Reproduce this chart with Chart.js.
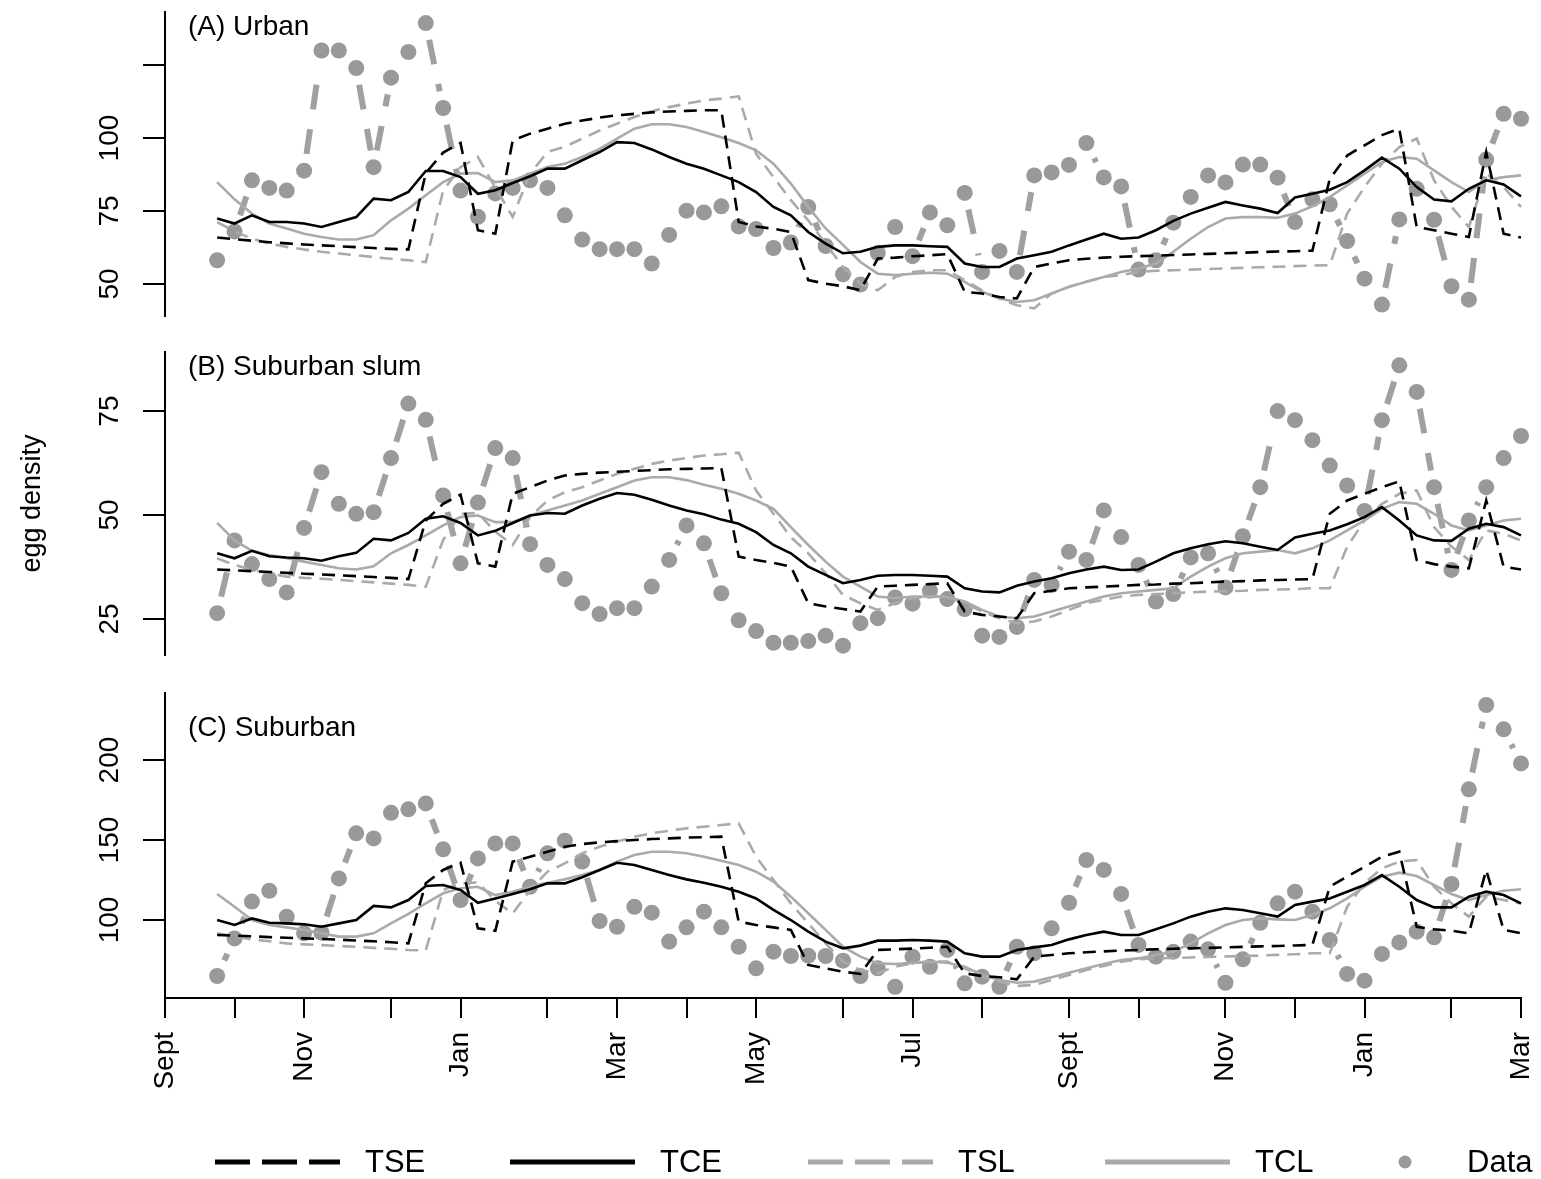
<!DOCTYPE html>
<html>
<head>
<meta charset="utf-8">
<script src="https://cdn.jsdelivr.net/npm/chart.js@4.4.0/dist/chart.umd.min.js"></script>
<style>
html,body{margin:0;padding:0;background:#fff;overflow:hidden;}
#wrap{position:relative;width:1541px;height:1179px;background:#fff;}
.panel{position:absolute;left:0;width:1541px;}
canvas{display:block;}
</style>
</head>
<body>
<div id="wrap">
  <div class="panel" style="top:0;height:340px"><canvas id="cA" width="1541" height="340"></canvas></div>
  <div class="panel" style="top:340px;height:340px"><canvas id="cB" width="1541" height="340"></canvas></div>
  <div class="panel" style="top:680px;height:499px"><canvas id="cC" width="1541" height="499"></canvas></div>
</div>
<script>
// ---------- x axis: weeks since 1 September ----------
const weeks = [3,4,5,6,7,8,9,10,11,12,13,14,15,16,17,18,19,20,21,22,23,24,25,26,27,28,29,30,31,32,33,34,35,36,37,38,39,40,41,42,43,44,45,46,47,48,49,50,51,52,53,54,55,56,57,58,59,60,61,62,63,64,65,66,67,68,69,70,71,72,73,74,75,76,77,78];
const tickWeeks = [0,4,8,13,17,22,26,30,34,39,43,47,52,56,61,65,69,74,78];
const tickLabels = ['Sept','','Nov','','Jan','','Mar','','May','','Jul','','Sept','','Nov','','Jan','','Mar'];
const seriesNames = ['TSE','TCE','TSL','TCL','Data'];
const panelTitles = ['(A) Urban','(B) Suburban slum','(C) Suburban'];
const yAxisTitle = 'egg density';

// ---------- y ticks ----------
const yTicksA = [50,75,100,125];   const yLabelsA = ['50','75','100',''];
const yTicksB = [25,50,75];        const yLabelsB = ['25','50','75'];
const yTicksC = [100,150,200];     const yLabelsC = ['100','150','200'];

// ---------- (A) Urban ----------
const dataA = [58.1,68,85.5,82.9,82,88.8,130,130,124,90,
  120.7,129.5,139.4,110.3,82,73,81,82.9,85.5,82.9,
  73.5,65.2,61.9,61.9,61.9,57,66.8,75.1,74.5,76.6,
  69.7,68.8,62.3,64.2,76.4,63,53.3,49.8,60.6,69.5,
  59.5,74.5,70.1,81.2,54.1,61.3,54.1,87.2,88.2,90.8,
  98.3,86.5,83.4,54.9,58.1,71,79.8,87.2,84.8,90.9,
  90.9,86.4,71.2,79,77.3,64.7,51.8,42.9,72.1,82.6,
  72,49.2,44.6,92.6,108.3,106.6];
const tseA = [65.9,65.3,64.8,64.3,63.9,63.5,63.2,62.9,62.6,62.3,
  62,61.8,88,95,98.3,68.4,67.2,99.2,101.5,103.2,
  104.9,106,107,107.8,108.3,108.8,109.1,109.3,109.5,109.5,
  71.2,69.7,68.9,67.8,51.3,50.1,49.2,47.8,58.7,59,
  59.5,59.8,60.2,47.3,46.7,45.5,45,55.8,57,58.1,
  58.6,59,59.3,59.5,59.7,59.9,60.1,60.3,60.5,60.7,
  60.9,61.1,61.2,61.4,86,94,97.5,101,103.2,69.5,
  68.4,67.2,66.1,95.2,67.2,65.9];
const tceA = [72.4,70.7,73.5,71.2,71.2,70.7,69.5,71.2,72.9,79.2,
  78.7,81.5,88.7,88.7,86.6,80.9,82.1,84.6,86.9,89.5,
  89.5,92.4,95.2,98.6,98.3,96.1,93.5,91.2,89.5,87.2,
  84.9,81.5,76.4,73.5,67.8,63.8,60.5,61,62.7,63.2,
  63.2,62.9,62.7,57,55.8,55.8,58.7,59.8,61,63.2,
  65.2,67.2,65.5,65.9,68.4,71.6,74.1,76.1,78.1,76.9,
  75.8,74.3,79.6,80.9,82.3,84.9,88.9,93.3,89.5,83.2,
  78.9,78.3,82.6,85.5,84.1,80];
const tslA = [71.2,68,65.5,63.8,62.7,61.8,61,60.4,59.8,59.2,
  58.6,58.1,57.5,82,90,93.5,83,73,87.8,95.2,
  97,99.8,102.6,104.9,107.2,109.2,110.6,111.8,112.9,113.5,
  114.3,94.6,86.6,78.7,71.8,63.8,55.8,50.1,47.8,52.4,
  54.1,54.7,54.7,51.3,47.8,45,42.7,41.6,46.7,49,
  50.7,52.4,53,54.1,54.5,54.7,54.9,55.1,55.3,55.5,
  55.7,55.9,56.1,56.3,56.4,74.1,83.2,91.2,96.9,99.8,
  85.5,76.4,69.5,87.8,83.2,76.4];
const tclA = [84.9,79,74.1,70.7,69,67.2,66.1,65.2,65.2,66.7,
  71.8,75.8,80.4,84.9,87.8,88,84.9,85.5,87.8,90.1,
  91.2,93.5,96.3,99.8,103.2,104.7,104.7,103.8,102.1,100.3,
  98.3,95.8,91.2,84.4,76.4,69,63.4,57.5,53.5,53,
  53.5,53.8,53.5,50.7,47.3,45,43.8,44.4,46.7,49,
  50.7,52.4,54.1,55.3,57,61,65.5,69.5,72.4,72.9,
  72.9,72.7,74.1,76.6,79.8,83.8,87.8,91.8,93.5,92.9,
  88.9,84.9,81.5,85.5,86.6,87.2];

// ---------- (B) Suburban slum ----------
const dataB = [26.4,43.9,38.2,34.6,31.4,46.9,60.3,52.7,50.3,50.7,
  63.7,76.8,72.9,54.7,38.4,53,66.1,63.7,43,38,
  34.6,28.8,26.2,27.6,27.6,32.8,39.2,47.5,43.2,31.2,
  24.7,22.1,19.3,19.3,19.7,21,18.6,24,25.2,30.2,
  28.7,31.8,29.8,27.4,21,20.7,23.1,34.4,33.2,41.2,
  39.2,51.1,44.7,38,29.2,31,39.8,40.8,32.6,44.9,
  56.7,75,72.8,68,61.9,57.1,51,72.8,86,79.6,
  56.7,36.8,48.7,56.7,63.7,69];
const tseB = [36.9,36.7,36.5,36.3,36.1,35.9,35.7,35.5,35.3,35.1,
  34.9,34.6,48.7,52.7,54.9,38.4,37.6,55.1,56.7,58.3,
  59.5,59.9,60.2,60.4,60.6,60.8,61,61.1,61.2,61.3,
  40,39.2,38.5,37.6,28.8,28,27.4,26.8,32.8,33,
  33.2,33.4,33.6,26.8,26,25.6,25.2,31.2,31.8,32.4,
  32.6,32.8,33,33.2,33.3,33.5,33.6,33.8,34,34.1,
  34.3,34.4,34.5,34.6,50.3,53.5,55.1,56.7,58.1,39.2,
  38.2,37.6,37.2,53.5,37.6,36.9];
const tceB = [40.8,39.6,41.4,40.1,39.8,39.6,39,40.1,40.9,44.3,
  43.9,45.7,49.1,49.7,48.1,45.1,46.2,48.1,49.9,50.5,
  50.3,52.3,53.9,55.3,54.9,53.7,52.3,51.1,50.2,48.9,
  47.9,45.9,42.8,40.8,37.6,35.6,33.6,34.4,35.4,35.6,
  35.6,35.4,35.2,32.4,31.6,31.4,33,34,34.8,36,
  36.9,37.6,36.8,36.9,38.8,40.8,42,43,43.7,43.2,
  42.4,41.6,44.6,45.5,46.3,47.8,49.5,51.9,48.7,45.1,
  43.9,43.8,46.7,47.9,47.1,45.1];
const tslB = [39.6,38,36.8,36,35.2,34.9,34.7,34.4,34.1,33.8,
  33.5,33.2,32.8,44,50.3,50.5,46,42.8,49.5,53.5,
  55.5,56.7,58.3,59.9,61.1,62.3,63.1,63.7,64.3,64.6,
  65,55.9,50.3,44.7,40.8,36,30.8,28.8,27.2,28.8,
  30,30.4,30.4,28.8,26.8,25.2,24,24.4,25.6,27.2,
  28.8,29.6,30.4,30.8,31,31.2,31.4,31.6,31.7,31.8,
  32,32.1,32.2,32.4,32.4,42.4,48.7,52.7,55.1,55.9,
  47.1,42.4,39.2,46.3,45.5,43.9];
const tclB = [48.1,43.9,41.4,40.4,39.6,38.8,38,37.2,36.9,37.7,
  40.8,42.8,45.1,47.5,49.5,49.9,48.3,48.3,49.9,51.1,
  52.3,53.5,55.1,56.7,58.3,59.1,59.1,58.4,57.3,56.3,
  55.1,53.5,51.5,47.1,42.8,38.8,35.2,32.8,30.4,30,
  30.4,30.4,30.3,29.2,27.2,25.6,25.2,25.6,26.8,28,
  29.2,30.4,31.2,31.6,32,32.4,35.2,37.6,39.6,40.8,
  41.2,41.6,40.8,42,43.9,46.3,48.7,51.5,53.1,52.7,
  50.3,47.5,46.3,47.5,48.7,49.1];

// ---------- (C) Suburban ----------
const dataC = [65,88.5,111.5,118.3,102.1,91.7,92.1,126,154.2,151,
  167,169.2,172.9,144.2,112.5,138.5,147.9,147.9,120.8,141.7,
  149.6,136.5,99.4,95.8,108.3,104.6,86.5,95.4,105.2,95.4,
  83.3,69.8,80.2,77.5,77.7,77.5,74.6,65,69.8,58.3,
  77.1,70.8,81.3,60.4,64.6,58.3,83.3,79.2,94.8,110.8,
  137.5,131.3,116.3,84.4,77.1,80.2,86.5,81.7,60.8,75.4,
  98.3,110.4,117.7,105.2,87.5,66.3,62.1,78.8,86,92.7,
  89.2,122.5,181.7,234.4,219.2,197.9];
const tseC = [90.6,90.2,89.8,89.3,88.9,88.5,88.1,87.7,87.2,86.7,
  86.1,85.4,123,131.3,135.8,94.8,93.3,136.5,139.6,142.7,
  145.8,147.5,148.5,149.3,150,150.6,151,151.5,151.8,152.1,
  99,96.9,95.4,93.8,71.9,69.8,67.7,66.3,81.3,81.7,
  82.1,82.7,83.3,66.7,65,64.2,62.9,77.1,78.1,79.2,
  79.8,80.4,80.9,81.3,81.7,82,82.3,82.6,82.9,83.2,
  83.5,83.8,84.1,84.4,120.8,127.1,133.3,139.6,142.7,95.8,
  94.2,93.3,91.7,131.3,93.8,91.7];
const tceC = [100,96.9,101,98.3,97.9,97.3,95.8,97.9,100,108.8,
  107.9,112.5,121.3,121.9,118.8,110.8,113.5,116.3,119.2,122.9,
  122.9,126.7,131.3,135.8,134.4,131.3,128.1,125.4,123.3,120.8,
  117.7,113.5,106.3,100,92.7,86.5,82.3,84,87.1,87.1,
  87.5,87.1,86.5,79.2,77.1,77.1,81.3,82.9,84.4,87.9,
  90.6,92.7,90.6,90.6,94.2,97.9,102.1,105.2,107.3,106.3,
  104.2,102.1,109.4,111.5,113.5,117.7,121.9,128.1,120.8,112.5,
  107.9,107.9,114.6,117.7,115.6,110.4];
const tslC = [91.7,89.8,87.9,86.7,85.4,84.8,84.3,83.8,83.3,82.6,
  82,81.3,81,118.8,122.9,123.5,112,104,118.8,130.2,
  135.4,141.7,145.8,149,152.1,154.2,155.8,157.3,158.3,159.4,
  160.4,139.6,125,110.4,97.9,85.4,74,68.8,66.7,70.8,
  72.9,74,74,69.8,65,61.5,58.8,59.4,62.5,65.6,
  68.8,71.3,74,75.4,76,76.3,76.6,76.9,77.2,77.5,
  77.8,78.2,78.6,79.2,79.2,108.3,122.9,132.3,136.5,137.5,
  120.8,110.4,102.1,114.6,112.5,110.4];
const tclC = [116.3,108.3,100,96.9,95.4,93.8,91.7,89.6,89.6,91.7,
  97.9,103.8,110.4,116.7,119.8,120.8,115.6,117.7,120.8,123.3,
  125.4,128.1,131.3,136.5,140.6,142.7,142.7,141.7,139.6,137.1,
  134.4,130.2,124,114.6,104.2,93.8,83.3,77.1,72.9,72.5,
  73.3,74,73.3,70.8,65.6,62.5,60.8,61.5,64.2,67.1,
  69.8,72.5,75,76,78.1,80.2,85.4,91.7,96.9,100,
  101,100.4,100,103.1,107.3,113.5,120.8,127.1,129.6,127.5,
  121.9,116.3,112.5,115.6,118.3,119.2];

// ---------- rendering ----------
const FONT = '"Liberation Sans", Arial, Helvetica, sans-serif';
Chart.defaults.font.family = FONT;
Chart.defaults.color = '#000';

const BLACK = '#000000', GREY_LINE = '#aaaaaa', GREY_DATA_LINE = '#a0a0a0', GREY_PT = '#999999';

function pts(arr) { return weeks.map((w, i) => ({ x: w, y: arr[i] })); }

// "points + broken line" look: the dashed line between two observations
// leaves a gap around each point, restarting its pattern on every segment.
function dataSegmentDash(ctx) {
  const dx = ctx.p1.x - ctx.p0.x, dy = ctx.p1.y - ctx.p0.y;
  const L = Math.hypot(dx, dy);
  const gapEnd = 17, dashLen = 25, gapLen = 20;
  const V = L - 2 * gapEnd;
  if (V < 3) return [0, L + 100];
  const arr = [0, gapEnd];
  let used = 0;
  while (used < V) {
    const d = Math.min(dashLen, V - used);
    arr.push(d); used += d;
    if (used >= V) break;
    const g = Math.min(gapLen, V - used);
    arr.push(g); used += g;
  }
  if (arr.length % 2 === 1) arr.push(gapEnd + 100);
  else arr[arr.length - 1] += gapEnd + 100;
  return arr;
}

function makeDatasets(tse, tce, tsl, tcl, obs) {
  return [
    { label: seriesNames[0], data: pts(tse), borderColor: BLACK, borderWidth: 2.6, borderDash: [13, 8], pointRadius: 0, order: 1, clip: false },
    { label: seriesNames[1], data: pts(tce), borderColor: BLACK, borderWidth: 2.6, pointRadius: 0, order: 2, clip: false },
    { label: seriesNames[2], data: pts(tsl), borderColor: GREY_LINE, borderWidth: 2.6, borderDash: [13, 8], pointRadius: 0, order: 3, clip: false },
    { label: seriesNames[3], data: pts(tcl), borderColor: GREY_LINE, borderWidth: 2.6, pointRadius: 0, order: 4, clip: false },
    { label: seriesNames[4], data: pts(obs), borderColor: GREY_DATA_LINE, borderWidth: 6,
      segment: { borderDash: dataSegmentDash },
      pointRadius: 8, pointBackgroundColor: GREY_PT, pointBorderWidth: 0, order: 5, clip: false }
  ];
}

function xScale(show) {
  return {
    type: 'linear', min: 0, max: 78, display: show,
    afterBuildTicks: s => { s.ticks = tickWeeks.map(v => ({ value: v })); },
    ticks: { autoSkip: false, minRotation: 90, maxRotation: 90, padding: 14, color: '#000',
      font: { family: FONT, size: 28 },
      callback: (v, i) => tickLabels[i] },
    grid: { drawOnChartArea: false, drawTicks: true, tickLength: 20, color: '#000', lineWidth: 2 },
    border: { display: true, color: '#000', width: 2 },
    afterFit: s => { if (show) s.height = 181; s.paddingLeft = 0; s.paddingRight = 0; }
  };
}

function yScale(min, max, ticks, title) {
  return {
    type: 'linear', position: 'left', min: min, max: max,
    afterBuildTicks: s => { s.ticks = ticks.map(v => ({ value: v })); },
    ticks: { display: false },
    grid: { drawOnChartArea: false, drawTicks: true, tickLength: 22, color: '#000', lineWidth: 2 },
    border: { display: true, color: '#000', width: 2 },
    title: title ? { display: true, text: title, color: '#000', font: { family: FONT, size: 27 }, padding: { top: 16, bottom: 0 } } : { display: false },
    afterFit: s => { s.width = 165; s.paddingTop = 0; s.paddingBottom = 0; }
  };
}

const decorPlugin = {
  id: 'panelDecor',
  afterDraw(chart, args, opts) {
    const ctx = chart.ctx, ys = chart.scales.y, area = chart.chartArea;
    ctx.save();
    ctx.fillStyle = '#000';
    ctx.font = '28px ' + FONT;
    opts.yTicks.forEach((v, i) => {
      const lbl = opts.yLabels[i];
      if (!lbl) return;
      const py = ys.getPixelForValue(v);
      ctx.save();
      ctx.translate(ys.right - 47, py);
      ctx.rotate(-Math.PI / 2);
      ctx.textAlign = 'center';
      ctx.textBaseline = 'alphabetic';
      ctx.fillText(lbl, 0, 0);
      ctx.restore();
    });
    ctx.textAlign = 'left';
    ctx.textBaseline = 'middle';
    ctx.font = '28px ' + FONT;
    ctx.fillText(opts.title, area.left + 23, area.top + opts.titleDy);
    ctx.restore();
  }
};

const legendPlugin = {
  id: 'bottomLegend',
  afterDraw(chart, args, opts) {
    if (!opts.show) return;
    const ctx = chart.ctx, y = opts.y;
    const swatchX = [215, 510, 808, 1105, 1405];
    const textX = [365, 660, 958, 1255, 1467];
    ctx.save();
    chart.data.datasets.forEach((ds, i) => {
      if (i < 4) {
        ctx.strokeStyle = ds.borderColor;
        ctx.lineWidth = 5;
        ctx.lineCap = 'butt';
        ctx.setLineDash(ds.borderDash ? [35, 12] : []);
        ctx.beginPath();
        ctx.moveTo(swatchX[i], y);
        ctx.lineTo(swatchX[i] + 125, y);
        ctx.stroke();
      } else {
        ctx.setLineDash([]);
        ctx.fillStyle = ds.pointBackgroundColor;
        ctx.beginPath();
        ctx.arc(swatchX[i], y, 6.5, 0, Math.PI * 2);
        ctx.fill();
      }
      ctx.fillStyle = '#000';
      ctx.font = '31px ' + FONT;
      ctx.textAlign = 'left';
      ctx.textBaseline = 'middle';
      ctx.fillText(ds.label, textX[i], y + 1);
    });
    ctx.restore();
  }
};

function makeChart(id, datasets, yMin, yMax, yTicks, yLabels, title, titleDy, opts) {
  return new Chart(document.getElementById(id), {
    type: 'line',
    data: { datasets: datasets },
    options: {
      responsive: false, animation: false, devicePixelRatio: 1, events: [],
      layout: { padding: opts.padding },
      scales: { x: xScale(opts.showX), y: yScale(yMin, yMax, yTicks, opts.yTitle) },
      plugins: {
        legend: { display: false }, tooltip: { enabled: false },
        panelDecor: { yTicks: yTicks, yLabels: yLabels, title: title, titleDy: titleDy },
        bottomLegend: { show: !!opts.legend, y: 482 }
      }
    },
    plugins: [decorPlugin, legendPlugin]
  });
}

makeChart('cA', makeDatasets(tseA, tceA, tslA, tclA, dataA), 39.0, 143.2, yTicksA, yLabelsA, panelTitles[0], 15,
  { padding: { top: 12, right: 20, bottom: 24, left: 0 }, showX: false });
makeChart('cB', makeDatasets(tseB, tceB, tslB, tclB, dataB), 16.35, 89.2, yTicksB, yLabelsB, panelTitles[1], 15,
  { padding: { top: 12, right: 20, bottom: 25, left: 0 }, showX: false, yTitle: yAxisTitle });
makeChart('cC', makeDatasets(tseC, tceC, tslC, tclC, dataC), 51.25, 241.9, yTicksC, yLabelsC, panelTitles[2], 35,
  { padding: { top: 13, right: 20, bottom: 0, left: 0 }, showX: true, legend: true });
</script>
</body>
</html>
